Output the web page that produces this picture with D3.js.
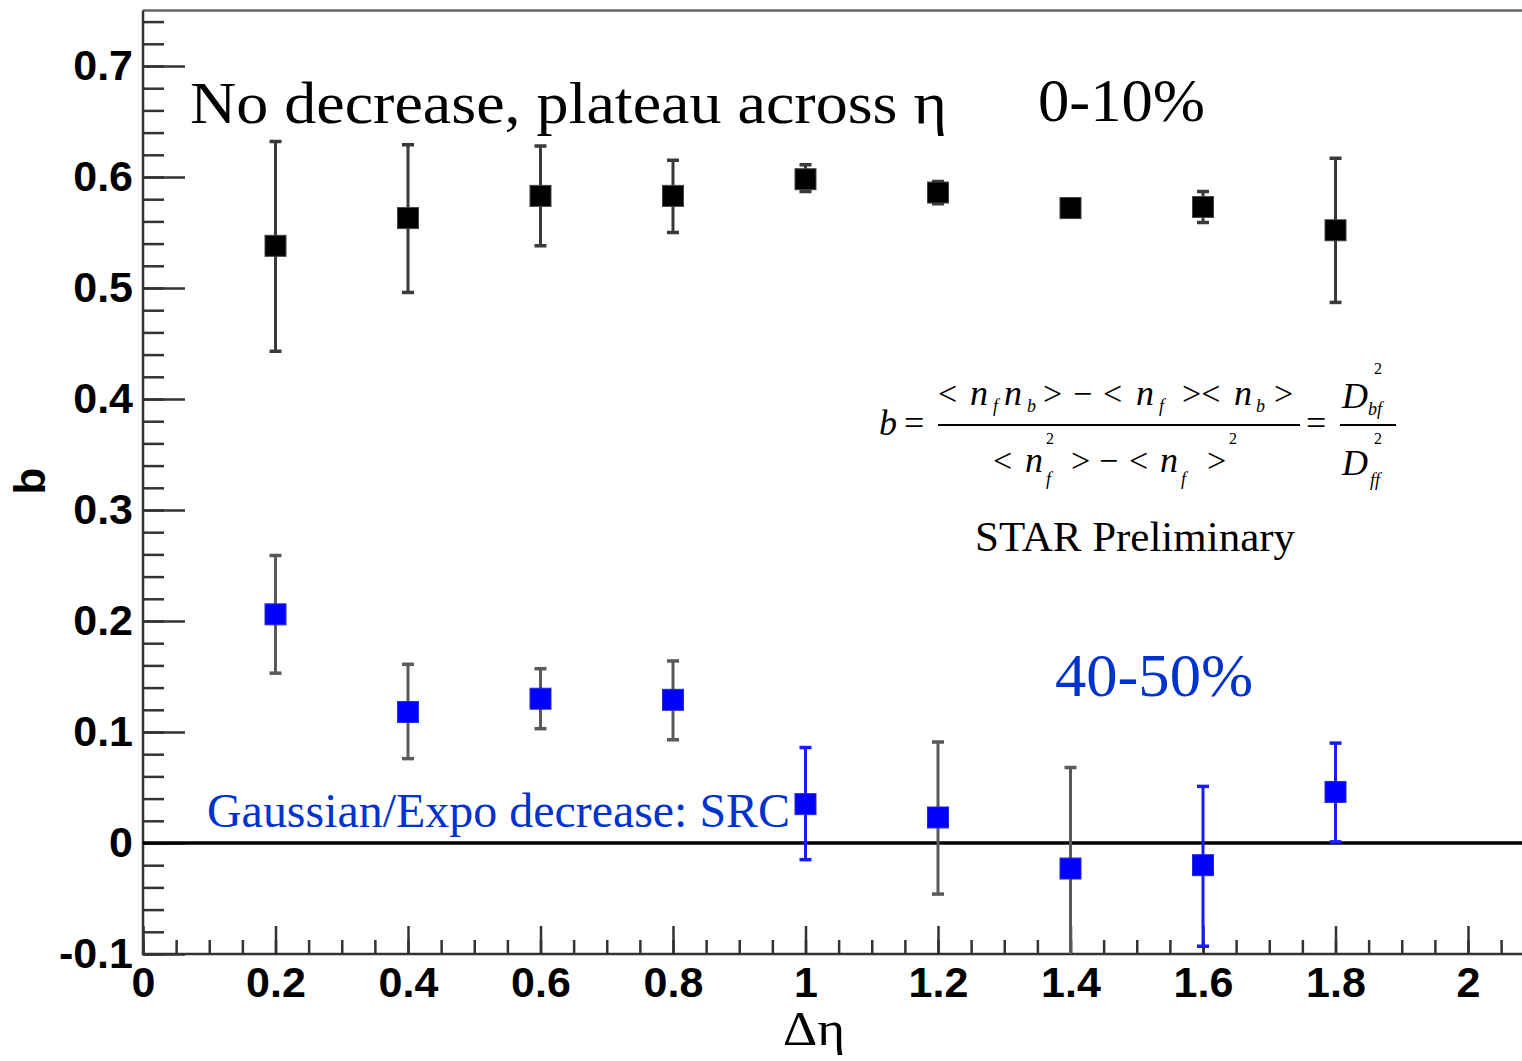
<!DOCTYPE html>
<html>
<head>
<meta charset="utf-8">
<script src="https://cdn.jsdelivr.net/npm/d3@7"></script>
<style>
  body { margin: 0; background: #fff; }
  svg { display: block; }
</style>
</head>
<body>
<svg id="chart"></svg>
<script>
// delta eta bins
const deta = [0.2, 0.4, 0.6, 0.8, 1.0, 1.2, 1.4, 1.6, 1.8]

// 0-10% central
const bCentral = [0.538, 0.563, 0.583, 0.583, 0.598, 0.586, 0.572, 0.573, 0.552]
const bCentralHi = [0.632, 0.629, 0.628, 0.615, 0.611, 0.596, 0.576, 0.587, 0.617]
const bCentralLo = [0.443, 0.496, 0.538, 0.550, 0.587, 0.576, 0.568, 0.559, 0.487]

// 40-50% peripheral
const bPeriph = [0.206, 0.118, 0.130, 0.129, 0.035, 0.023, -0.023, -0.020, 0.046]
const bPeriphHi = [0.259, 0.161, 0.157, 0.164, 0.086, 0.091, 0.068, 0.051, 0.090]
const bPeriphLo = [0.153, 0.076, 0.103, 0.093, -0.015, -0.046, -0.114, -0.093, 0.001]
// which peripheral error bars were drawn in blue in the original
const periphErrBlue = [false, false, false, false, true, false, false, true, true]

const yMajor = [-0.1, 0, 0.1, 0.2, 0.3, 0.4, 0.5, 0.6, 0.7]
const xMajor = [0, 0.2, 0.4, 0.6, 0.8, 1, 1.2, 1.4, 1.6, 1.8, 2]

const width = 1522
const height = 1061
const blueText = '#0033cc'
const serif = '"Liberation Serif", "Times New Roman", serif'
const sans = '"Liberation Sans", Arial, Helvetica, sans-serif'

const x = d3.scaleLinear().domain([0, 2]).range([143, 1468])
const y = d3.scaleLinear().domain([-0.1, 0.75]).range([954, 10.5])

const svg = d3.select('#chart').attr('width', width).attr('height', height)

svg.append('rect')
  .attr('width', width)
  .attr('height', height)
  .attr('fill', '#fff')

svg.append('defs')
  .append('clipPath')
  .attr('id', 'plot-clip')
  .append('rect')
  .attr('x', x(0))
  .attr('y', y(0.75))
  .attr('width', width)
  .attr('height', y(-0.1) - y(0.75))

const fmt = (d) => String(+d.toFixed(1))

// minor / major ticks
const yMinor = d3.range(0, 43).map((i) => +(-0.1 + i * 0.02).toFixed(2))
const xMinor = d3.range(0, 42).map((i) => +(i * 0.05).toFixed(2))

const yAxisG = svg.append('g').attr('transform', `translate(${x(0)},0)`)
yAxisG.append('g')
  .call(d3.axisLeft(y).tickValues(yMinor).tickSize(-21).tickFormat(''))
yAxisG.append('g')
  .call(d3.axisLeft(y).tickValues(yMajor).tickSize(-42).tickPadding(10).tickFormat(fmt))
yAxisG.selectAll('.domain').remove()

const xAxisG = svg.append('g').attr('transform', `translate(0,${y(-0.1)})`)
xAxisG.append('g')
  .call(d3.axisBottom(x).tickValues(xMinor).tickSize(-14).tickFormat(''))
xAxisG.append('g')
  .call(d3.axisBottom(x).tickValues(xMajor).tickSize(-28).tickPadding(12).tickFormat(fmt))
xAxisG.selectAll('.domain').remove()

svg.selectAll('.tick line')
  .attr('stroke', '#333')
  .attr('stroke-width', 2.5)

svg.selectAll('.tick text')
  .attr('fill', '#000')
  .style('font-family', sans)
  .style('font-weight', 'bold')
  .style('font-size', '43px')

// frame
svg.append('path')
  .attr('d', `M${x(0)},${y(0.75)}H${width}`)
  .attr('stroke', '#666')
  .attr('stroke-width', 2.5)
svg.append('path')
  .attr('d', `M${x(0)},${y(0.75)}V${y(-0.1)}H${width}`)
  .attr('fill', 'none')
  .attr('stroke', '#333')
  .attr('stroke-width', 2.5)

// zero line
svg.append('line')
  .attr('x1', x(0))
  .attr('x2', width)
  .attr('y1', y(0))
  .attr('y2', y(0))
  .attr('stroke', '#000')
  .attr('stroke-width', 3.5)

// points with error bars
const central = deta.map((d, i) => ({ x: d, y: bCentral[i], lo: bCentralLo[i], hi: bCentralHi[i], err: '#3a3a3a', fill: '#000' }))
const periph = deta.map((d, i) => ({ x: d, y: bPeriph[i], lo: bPeriphLo[i], hi: bPeriphHi[i], err: periphErrBlue[i] ? '#1a1aff' : '#5a5a5a', fill: '#0000ff' }))
const points = central.concat(periph)

const errLayer = svg.append('g').attr('clip-path', 'url(#plot-clip)')
errLayer.selectAll('line.bar')
  .data(points)
  .join('line')
  .attr('class', 'bar')
  .attr('x1', (d) => x(d.x))
  .attr('x2', (d) => x(d.x))
  .attr('y1', (d) => y(d.hi))
  .attr('y2', (d) => y(d.lo))
  .attr('stroke', (d) => d.err)
  .attr('stroke-width', 3)

const caps = points.flatMap((d) => [
  { x: d.x, v: d.hi, c: d.err },
  { x: d.x, v: d.lo, c: d.err },
]).filter((d) => d.v >= -0.1)

errLayer.selectAll('line.cap')
  .data(caps)
  .join('line')
  .attr('class', 'cap')
  .attr('x1', (d) => x(d.x) - 6)
  .attr('x2', (d) => x(d.x) + 6)
  .attr('y1', (d) => y(d.v))
  .attr('y2', (d) => y(d.v))
  .attr('stroke', (d) => d.c)
  .attr('stroke-width', 3.5)

const size = 21
svg.append('g')
  .selectAll('rect')
  .data(points)
  .join('rect')
  .attr('x', (d) => x(d.x) - size / 2)
  .attr('y', (d) => y(d.y) - size / 2)
  .attr('width', size)
  .attr('height', size)
  .attr('fill', (d) => d.fill)
  .attr('stroke', (d) => (d.fill === '#000' ? '#444' : '#2a2ad0'))
  .attr('stroke-width', 1)

// annotation text
function label(txt, px, py, fs, opts = {}) {
  const t = svg.append('text')
    .attr('x', px)
    .attr('y', py)
    .attr('fill', opts.fill || '#000')
    .style('font-family', opts.family || serif)
    .style('font-size', fs + 'px')
    .style('font-style', opts.italic ? 'italic' : 'normal')
    .style('font-weight', opts.bold ? 'bold' : 'normal')
    .text(txt)
  if (opts.len) t.attr('textLength', opts.len).attr('lengthAdjust', 'spacingAndGlyphs')
  if (opts.anchor) t.attr('text-anchor', opts.anchor)
  return t
}

label('No decrease, plateau across η', 190, 123, 60, { len: 757 })
label('0-10%', 1038, 121, 62, { len: 167 })
label('40-50%', 1055, 696, 62, { len: 198, fill: blueText })
label('Gaussian/Expo decrease: SRC', 207, 827, 48, { len: 583, fill: blueText })
label('STAR Preliminary', 975, 551, 42, { len: 320 })
label('Δη', 783, 1045, 48, { len: 62 })

// y axis title
svg.append('text')
  .attr('transform', 'translate(45,481) rotate(-90)')
  .attr('text-anchor', 'middle')
  .style('font-family', sans)
  .style('font-weight', 'bold')
  .style('font-size', '44px')
  .text('b')

// formula
const it = { italic: true }
label('b', 879, 435, 36, it)
label('=', 904, 435, 36)
// numerator
label('<', 938, 405, 34)
label('n', 970, 405, 36, it)
label('f', 993, 412, 18, it)
label('n', 1004, 405, 36, it)
label('b', 1027, 412, 18, it)
label('>', 1043, 405, 34)
label('−', 1073, 405, 34)
label('<', 1103, 405, 34)
label('n', 1136, 405, 36, it)
label('f', 1159, 412, 18, it)
label('><', 1182, 405, 34)
label('n', 1234, 405, 36, it)
label('b', 1256, 412, 18, it)
label('>', 1274, 405, 34)
svg.append('line')
  .attr('x1', 938).attr('x2', 1300)
  .attr('y1', 425).attr('y2', 425)
  .attr('stroke', '#000').attr('stroke-width', 2)
// denominator
label('<', 993, 472, 34)
label('n', 1025, 472, 36, it)
label('2', 1046, 444, 16)
label('f', 1046, 485, 18, it)
label('>', 1071, 472, 34)
label('−', 1099, 472, 34)
label('<', 1129, 472, 34)
label('n', 1160, 472, 36, it)
label('f', 1181, 485, 18, it)
label('>', 1207, 472, 34)
label('2', 1229, 444, 16)
// right fraction
label('=', 1306, 435, 36)
label('D', 1342, 408, 36, it)
label('2', 1374, 374, 16)
label('bf', 1368, 415, 18, it)
svg.append('line')
  .attr('x1', 1340).attr('x2', 1396)
  .attr('y1', 425).attr('y2', 425)
  .attr('stroke', '#000').attr('stroke-width', 2)
label('D', 1342, 475, 36, it)
label('2', 1374, 444, 16)
label('ff', 1370, 486, 18, it)
</script>
</body>
</html>
